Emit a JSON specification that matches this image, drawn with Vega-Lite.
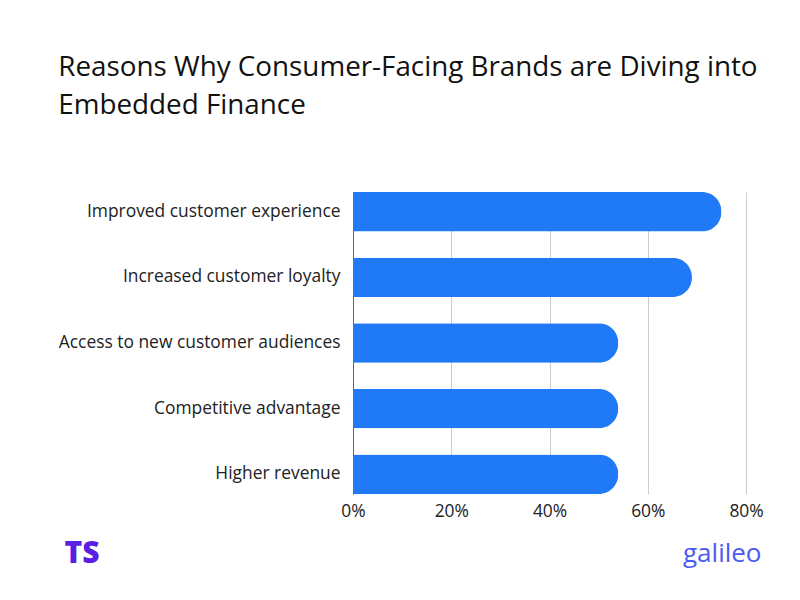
{
  "$schema": "https://vega.github.io/schema/vega-lite/v6.json",
  "width": 393,
  "height": 302,
  "autosize": {"type": "none"},
  "padding": {"left": 353, "top": 192, "right": 54, "bottom": 106},
  "background": "white",
  "title": {
    "text": ["Reasons Why Consumer-Facing Brands are Diving into", "Embedded Finance"],
    "anchor": "start",
    "frame": "bounds",
    "font": "Open Sans",
    "fontSize": 27.8,
    "fontWeight": "normal",
    "color": "#111111",
    "lineHeight": 38,
    "offset": 72
  },
  "data": {
    "values": [
      {"reason": "Improved customer experience", "share": 0.75},
      {"reason": "Increased customer loyalty", "share": 0.69},
      {"reason": "Access to new customer audiences", "share": 0.54},
      {"reason": "Competitive advantage", "share": 0.54},
      {"reason": "Higher revenue", "share": 0.54}
    ]
  },
  "mark": {"type": "bar", "color": "#2079F6", "cornerRadiusEnd": 19.5},
  "encoding": {
    "y": {
      "field": "reason",
      "type": "nominal",
      "sort": null,
      "scale": {"paddingInner": 0.4, "paddingOuter": 0},
      "axis": {
        "title": "TS",
        "titleAngle": 0,
        "titleX": -289,
        "titleY": 361,
        "titleAlign": "left",
        "titleBaseline": "middle",
        "titleFont": "Open Sans",
        "titleFontSize": 30,
        "titleFontWeight": 800,
        "titleColor": "#5B1FE3",
        "domain": true,
        "domainColor": "#666666",
        "ticks": false,
        "labelFont": "Open Sans",
        "labelFontSize": 17.4,
        "labelColor": "#222222",
        "labelPadding": 13,
        "labelLimit": 400
      }
    },
    "x": {
      "field": "share",
      "type": "quantitative",
      "scale": {"domain": [0, 0.8], "nice": false},
      "axis": {
        "title": "galileo",
        "titleAnchor": "start",
        "titleX": 408,
        "titleY": 59,
        "titleAlign": "right",
        "titleBaseline": "middle",
        "titleFont": "Open Sans",
        "titleFontSize": 26,
        "titleFontWeight": 500,
        "titleColor": "#4B5AF2",
        "values": [0, 0.2, 0.4, 0.6, 0.8],
        "format": ".0%",
        "domain": false,
        "ticks": false,
        "grid": true,
        "gridColor": "#cccccc",
        "labelFlush": false,
        "labelFont": "Open Sans",
        "labelFontSize": 17.4,
        "labelColor": "#222222",
        "labelPadding": 8
      }
    }
  },
  "config": {"view": {"stroke": null}}
}
